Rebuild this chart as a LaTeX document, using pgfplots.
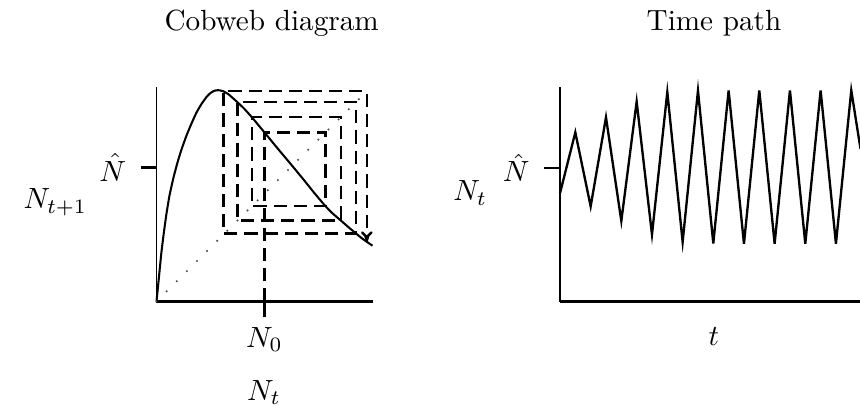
\documentclass[border=0pt]{standalone}
\usepackage{pgfplots}
\pgfplotsset{compat=1.18}
\usetikzlibrary{arrows.meta}

% one drawing unit
\def\px{0.3425pt}

\begin{document}
\begin{tikzpicture}[x=\px, y=\px]
\useasboundingbox (0,0) rectangle (860,409);
\clip (0,0) rectangle (860,409);

% ---------------- cobweb diagram ----------------
\begin{axis}[
  at={(156.5*\px,107.5*\px)}, anchor=south west,
  x=\px, y=\px,
  xmin=0, xmax=216, ymin=0, ymax=214,
  axis x line=bottom, axis y line=left,
  axis line style={-},
  x axis line style={line width=0.95pt},
  y axis line style={line width=0.55pt},
  xtick={108}, xticklabels={$N_0$},
  ytick={134}, yticklabels={$\hat{N}$},
  tick align=outside, major tick length=5.4pt,
  tick style={black, line width=0.7pt},
  yticklabel style={xshift=-1.5pt},
  clip=false,
]
% reproduction curve N_{t+1} = f(N_t)
\addplot[line width=0.7pt, smooth, tension=0.3] coordinates {
  (0,0) (1.5,15) (3,30) (5,50) (7.5,70) (10,88) (13,106) (17,124)
  (21,139) (25,152) (30,166) (35,178) (40,189) (45,197.5) (50,204.5)
  (54,208.5) (58,210.8) (62,211.3) (66.7,210.3) (72,207.2) (80.7,199.5)
  (88,192.5) (95.3,184.3) (101,177.5) (108,169) (115,160.5) (122,152)
  (130,142.5) (140,130.5) (149,119.5) (158,108.3) (169,95.3) (176,88.2)
  (184.3,81) (192,74.3) (199.5,68) (205,63.5) (210.3,59.7) (216,55.8)
};
% identity line N_{t+1} = N_t
\addplot[black!70, line width=0.8pt, line cap=round, dash pattern=on 0pt off 4.9pt]
  coordinates {(0,0) (210,210)};
% iterations starting from N_0
\addplot[line width=0.85pt, dash pattern=on 4.5pt off 2.4pt, -{To[length=3.5pt,width=4pt]}]
  coordinates {
  (108,0) (108,169) (169,169) (169,95.3) (95.3,95.3) (95.3,184.3)
  (184.3,184.3) (184.3,81) (81,81) (81,199.5) (199.5,199.5)
  (199.5,68) (67,68) (67,210.3) (210.3,210.3) (210.3,60)
};
\end{axis}

% ---------------- time path ----------------
\begin{axis}[
  at={(560*\px,107.3*\px)}, anchor=south west,
  x={5.2505pt}, y=\px,
  xmin=0, xmax=20.2, ymin=0, ymax=214.7,
  axis x line=bottom, axis y line=left,
  axis line style={-},
  x axis line style={line width=0.95pt},
  y axis line style={line width=0.75pt},
  xtick=\empty,
  ytick={134}, yticklabels={$\hat{N}$},
  tick align=outside, major tick length=5.4pt,
  tick style={black, line width=0.7pt},
  yticklabel style={xshift=-1.5pt},
  clip=false,
]
\addplot[line width=0.8pt, line join=miter] coordinates {
  (0,108.5) (1,169.3) (2,95.3) (3,184.3) (4,80.7) (5,200) (6,67.2)
  (7,209.6) (8,59.8) (9,211) (10,58.3) (11,211.3) (12,58) (13,211.3)
  (14,58) (15,211.3) (16,58) (17,211.3) (18,58) (19,211.3) (19.6,153)
};
\end{axis}

% titles and axis names
\node[anchor=base] at (271.7,378) {Cobweb diagram};
\node[anchor=base] at (714,378) {Time path};
\node[anchor=base west] at (13.3,200) {$N_{t+1}$};
\node[anchor=base] at (264,9) {$N_t$};
\node[anchor=base west] at (443,208) {$N_t$};
\node[anchor=base] at (714,64) {$t$};
\end{tikzpicture}
\end{document}
